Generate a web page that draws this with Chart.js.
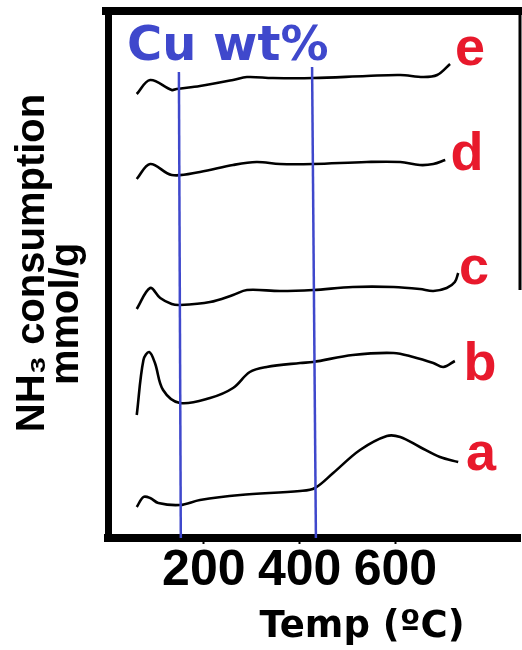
<!DOCTYPE html>
<html>
<head>
<meta charset="utf-8">
<script src="https://cdn.jsdelivr.net/npm/chart.js@4.4.1/dist/chart.umd.min.js"></script>
<style>
  html, body { margin: 0; padding: 0; background: #fff; }
</style>
</head>
<body>
<canvas id="tpd" width="522" height="650"></canvas>
<script>
// NH3-TPD curves, temperature (ºC) vs signal (a.u., stacked by offset)
const xTicks = [200, 400, 600];

const tempA = [60, 74, 88, 105, 150, 192, 276, 401, 432, 470, 526, 582, 610, 651, 693, 731];
const sigA  = [3.3, 4.3, 4.2, 3.7, 3.5, 4.0, 4.5, 4.9, 5.2, 6.7, 9.0, 10.4, 10.3, 9.3, 8.3, 7.8];

const tempB = [60, 74, 86, 98, 115, 150, 213, 261, 296, 331, 401, 428, 511, 596, 637, 679, 700, 724];
const sigB  = [12.5, 18.0, 18.8, 17.7, 15.0, 13.7, 14.2, 15.2, 16.8, 17.3, 17.7, 17.8, 18.5, 18.7, 18.3, 17.7, 17.3, 17.9];

const tempC = [60, 88, 109, 133, 150, 213, 261, 290, 359, 428, 511, 596, 651, 679, 707, 724, 731];
const sigC  = [23.1, 25.2, 24.2, 23.6, 23.5, 23.8, 24.5, 25.0, 24.9, 25.0, 25.3, 25.3, 25.1, 24.9, 25.2, 25.8, 26.7];

const tempD = [60, 88, 133, 192, 261, 310, 359, 428, 540, 610, 651, 679, 704];
const sigD  = [36.1, 37.6, 36.5, 36.8, 37.5, 37.8, 37.6, 37.6, 37.8, 37.8, 37.5, 37.6, 38.0];

const tempE = [60, 88, 133, 143, 192, 261, 290, 344, 428, 540, 610, 658, 687, 714];
const sigE  = [44.6, 46.0, 45.0, 45.1, 45.4, 46.0, 46.3, 46.2, 46.2, 46.4, 46.5, 46.3, 46.5, 47.6];

// blue guide lines (Cu wt%)
const guide1T = [148, 152];
const guide1Y = [46.8, 0.2];
const guide2T = [426, 434];
const guide2Y = [47.3, 0.2];

const curveNames = ['a', 'b', 'c', 'd', 'e'];

const pts = (xs, ys) => xs.map((x, i) => ({ x: x, y: ys[i] }));

const blue = '#3f48cc';
const red = '#e8192c';

function curve(label, xs, ys) {
    return {
        label: label,
        data: pts(xs, ys),
        borderColor: '#000',
        borderWidth: 2.6,
        pointRadius: 0,
        tension: 0.35,
        fill: false,
    };
}

function guide(label, xs, ys) {
    return {
        label: label,
        data: pts(xs, ys),
        borderColor: blue,
        borderWidth: 2.5,
        pointRadius: 0,
        tension: 0,
        fill: false,
    };
}

// texts and the open frame drawn on top of the plot
const textLayer = {
    id: 'textLayer',
    afterDraw(chart, args, opts) {
        const ctx = chart.ctx;
        const area = chart.chartArea;
        ctx.save();

        // top border and short right border
        ctx.strokeStyle = '#000';
        ctx.lineWidth = 8;
        ctx.beginPath();
        ctx.moveTo(102, area.top);
        ctx.lineTo(522, area.top);
        ctx.stroke();
        ctx.lineWidth = 3;
        ctx.beginPath();
        ctx.moveTo(area.right, area.top);
        ctx.lineTo(area.right, 290);
        ctx.stroke();

        // y title, rotated
        ctx.fillStyle = '#000';
        ctx.font = 'bold 40px "Liberation Sans"';
        ctx.textAlign = 'center';
        ctx.textBaseline = 'middle';
        opts.yTitle.forEach(t => {
            ctx.save();
            ctx.translate(t.x, t.y);
            ctx.rotate(-Math.PI / 2);
            ctx.fillText(t.text, 0, 0);
            ctx.restore();
        });

        // x title
        ctx.textBaseline = 'alphabetic';
        ctx.font = 'bold 37px "DejaVu Sans"';
        ctx.fillText(opts.xTitle.text, opts.xTitle.x, opts.xTitle.y);

        // Cu wt%
        ctx.fillStyle = blue;
        ctx.font = 'bold 48px "DejaVu Sans"';
        ctx.textAlign = 'left';
        ctx.fillText(opts.guideTitle.text, opts.guideTitle.x, opts.guideTitle.y);

        // curve names
        ctx.fillStyle = red;
        ctx.font = 'bold 54px "Liberation Sans"';
        ctx.textAlign = 'center';
        curveNames.forEach((n, i) => {
            const p = opts.namePos[i];
            ctx.fillText(n, p.x, p.y);
        });
        ctx.restore();
    }
};

new Chart(document.getElementById('tpd'), {
    type: 'line',
    data: {
        datasets: [
            guide('guide1', guide1T, guide1Y),
            guide('guide2', guide2T, guide2Y),
            curve('a', tempA, sigA),
            curve('b', tempB, sigB),
            curve('c', tempC, sigC),
            curve('d', tempD, sigD),
            curve('e', tempE, sigE),
        ]
    },
    options: {
        responsive: false,
        animation: false,
        layout: { padding: { top: 11, right: 2, left: 0, bottom: 0 } },
        plugins: {
            legend: { display: false },
            tooltip: { enabled: false },
            textLayer: {
                yTitle: [
                    { text: 'NH\u2083 consumption', x: 33, y: 263 },
                    { text: 'mmol/g', x: 67, y: 314 },
                ],
                xTitle: { text: 'Temp (\u00baC)', x: 362, y: 637 },
                guideTitle: { text: 'Cu wt%', x: 127, y: 60 },
                namePos: [
                    { x: 481, y: 470 },
                    { x: 480, y: 380 },
                    { x: 474, y: 284 },
                    { x: 467, y: 170 },
                    { x: 470, y: 65 },
                ],
            },
        },
        scales: {
            x: {
                type: 'linear',
                position: 'bottom',
                min: 0,
                max: 860,
                afterBuildTicks: s => { s.ticks = xTicks.map(v => ({ value: v })); },
                afterFit: s => { s.height = 112; },
                grid: {
                    drawOnChartArea: false,
                    drawTicks: true,
                    tickLength: 6,
                    tickColor: '#000',
                    tickWidth: 2,
                },
                border: { display: true, color: '#000', width: 8 },
                ticks: {
                    color: '#000',
                    font: { family: 'Liberation Sans', weight: 'bold', size: 50, lineHeight: 1 },
                    padding: 2,
                    maxRotation: 0,
                    autoSkip: false,
                },
            },
            y: {
                type: 'linear',
                min: 0.2,
                max: 52.9,
                afterFit: s => { s.width = 108; },
                grid: { display: false },
                border: { display: true, color: '#000', width: 7 },
                ticks: { display: false },
            },
        },
    },
    plugins: [textLayer],
});
</script>
</body>
</html>
